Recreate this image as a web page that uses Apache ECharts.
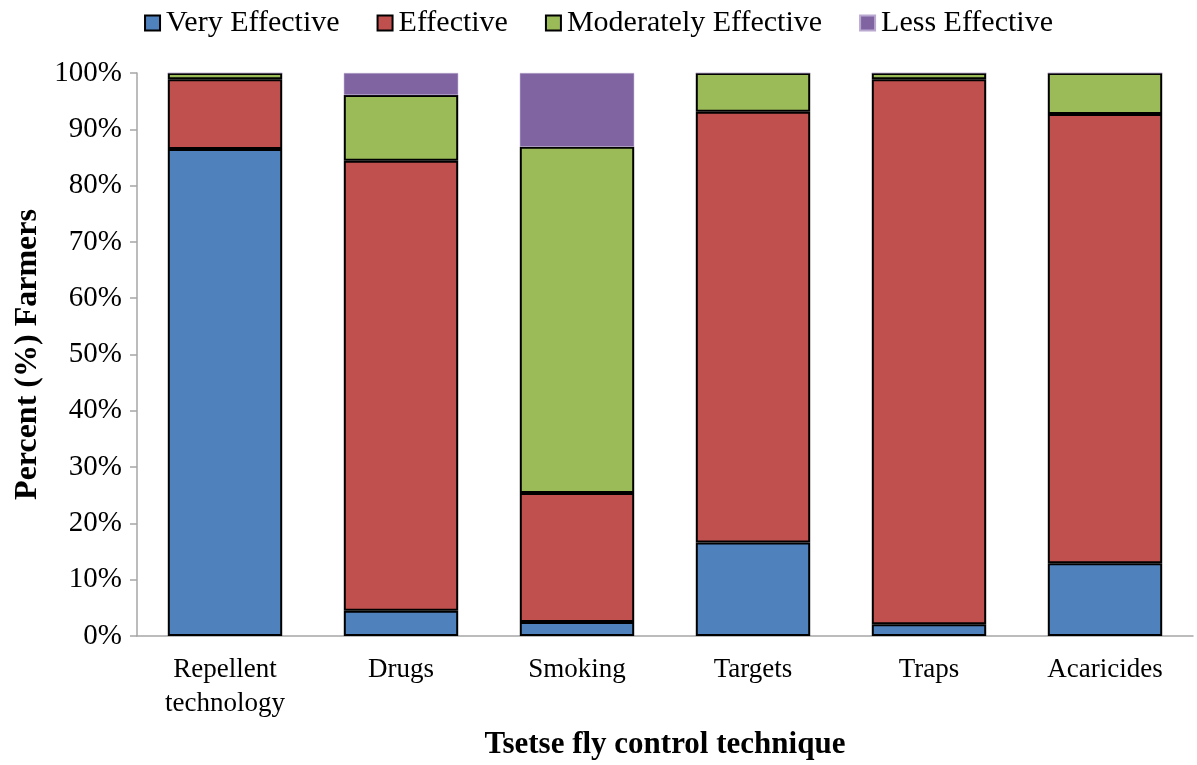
<!DOCTYPE html>
<html>
<head>
<meta charset="utf-8">
<script src="https://cdn.jsdelivr.net/npm/echarts@6/dist/echarts.min.js"></script>
<style>html,body{margin:0;padding:0;background:#fff;}#c{width:1197px;height:765px;}</style>
</head>
<body>
<div id="c"></div>
<script>
const categories = ['Repellent\ntechnology', 'Drugs', 'Smoking', 'Targets', 'Traps', 'Acaricides'];
const veryEffective = [86.5, 4.5, 2.5, 16.6, 2.1, 12.9];
const effective = [12.4, 79.9, 22.9, 76.5, 96.8, 79.8];
const moderatelyEffective = [1.1, 11.7, 61.5, 6.9, 1.1, 7.3];
const lessEffective = [0, 3.9, 13.1, 0, 0, 0];
const yTicks = [0, 10, 20, 30, 40, 50, 60, 70, 80, 90, 100];

const font = '"Liberation Serif", "Times New Roman", serif';
const chart = echarts.init(document.getElementById('c'));
function mk(name, data, color, border) {
  return {
    name: name, type: 'bar', stack: 'total', data: data, barWidth: '65%',
    itemStyle: { color: color, borderColor: border ? '#000' : '#b9a8cf', borderWidth: border ? 2 : 0.5 },
    emphasis: { disabled: true }
  };
}
chart.setOption({
  animation: false,
  textStyle: { fontFamily: font },
  legend: {
    top: 3, left: 'center',
    itemWidth: 15, itemHeight: 15, itemGap: 37,
    icon: 'rect',
    textStyle: { fontFamily: font, fontSize: 30, color: '#000', padding: [0, 0, 0, 1] },
    data: ['Very Effective', 'Effective', 'Moderately Effective', 'Less Effective']
  },
  grid: { left: 137, right: 4, top: 73, bottom: 129, containLabel: false, outerBoundsMode: 'none' },
  xAxis: {
    type: 'category', data: categories,
    name: 'Tsetse fly control technique', nameLocation: 'middle', nameGap: 109,
    nameTextStyle: { fontFamily: font, fontSize: 31, fontWeight: 'bold', color: '#000', verticalAlign: 'middle' },
    axisLine: { lineStyle: { color: '#a6a6a6', width: 1.5 } },
    axisTick: { show: false },
    axisLabel: { fontFamily: font, fontSize: 27, color: '#000', margin: 17, lineHeight: 34 }
  },
  yAxis: {
    type: 'value', min: 0, max: 100, interval: 10,
    name: 'Percent (%) Farmers', nameLocation: 'middle', nameGap: 109,
    nameTextStyle: { fontFamily: font, fontSize: 32, fontWeight: 'bold', color: '#000', verticalAlign: 'middle' },
    axisLine: { show: true, lineStyle: { color: '#a6a6a6', width: 1.5 } },
    axisTick: { show: true, length: 7, lineStyle: { color: '#a6a6a6', width: 1.5 } },
    splitLine: { show: false },
    axisLabel: { fontFamily: font, fontSize: 29, color: '#000', margin: 15,
      formatter: function (v) { return yTicks.indexOf(v) >= 0 ? v + '%' : ''; } }
  },
  series: [
    mk('Very Effective', veryEffective, '#4f81bd', true),
    mk('Effective', effective, '#c0504d', true),
    mk('Moderately Effective', moderatelyEffective, '#9bbb59', true),
    mk('Less Effective', lessEffective, '#8064a2', false)
  ]
});
</script>
</body>
</html>
